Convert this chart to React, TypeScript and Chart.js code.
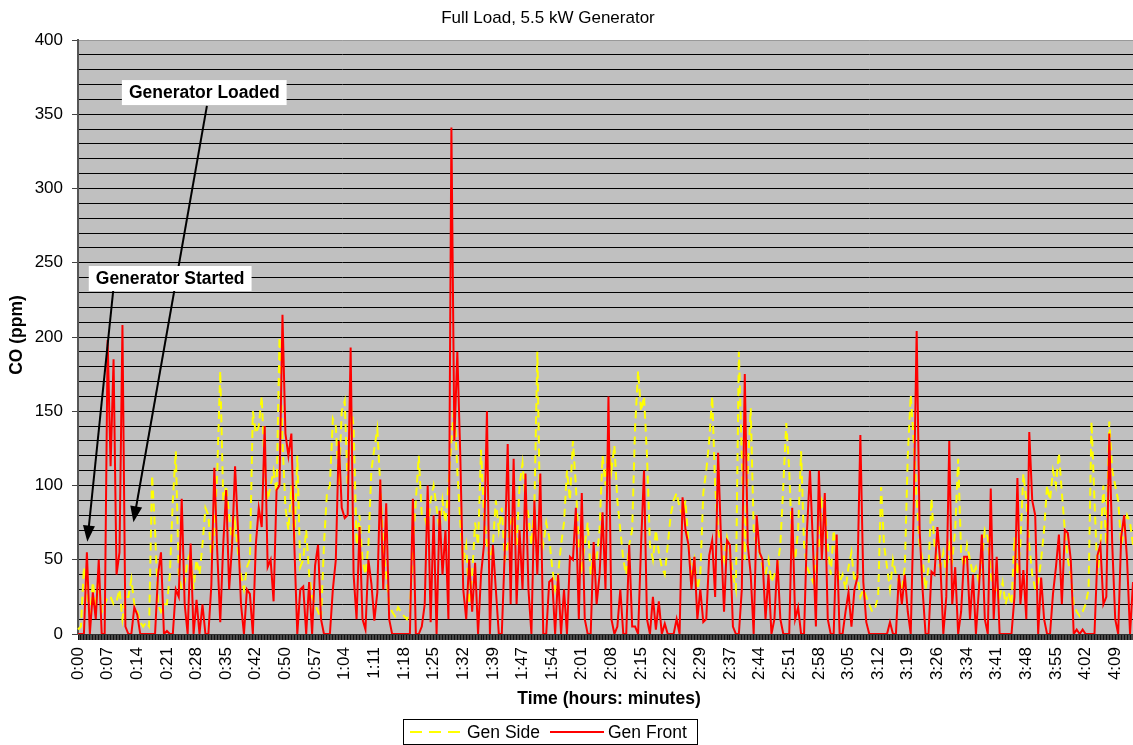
import React, { useEffect, useRef } from 'react';
import { Chart, registerables } from 'chart.js';

Chart.register(...registerables);

const chartTitle = 'Full Load, 5.5 kW Generator';
const xTitle = 'Time (hours: minutes)';
const yTitle = 'CO (ppm)';

const timeLabels = [
  '0:00', '0:07', '0:14', '0:21', '0:28', '0:35', '0:42', '0:50', '0:57', '1:04',
  '1:11', '1:18', '1:25', '1:32', '1:39', '1:47', '1:54', '2:01', '2:08', '2:15',
  '2:22', '2:29', '2:37', '2:44', '2:51', '2:58', '3:05', '3:12', '3:19', '3:26',
  '3:34', '3:41', '3:48', '3:55', '4:02', '4:09',
];
const samplesPerLabel = 10;

const genSide = [
  3, 5, 45, 30, 10, 35, 20, 35, 15, 20,
  25, 25, 20, 22, 30, 10, 25, 25, 37, 20,
  15, 8, 5, 8, 5, 107, 70, 20, 15, 20,
  20, 40, 90, 123, 40, 30, 35, 50, 55, 30,
  50, 40, 60, 85, 80, 50, 70, 110, 177, 90,
  100, 80, 60, 75, 55, 40, 30, 45, 50, 150,
  135, 140, 160, 110, 90, 100, 110, 95, 200, 130,
  85, 70, 100, 60, 120, 45, 50, 70, 40, 25,
  20, 15, 10, 60, 95, 100, 145, 140, 100, 150,
  157, 100, 155, 140, 60, 80, 50, 40, 60, 110,
  125, 138, 100, 60, 40, 20, 15, 12, 18, 15,
  12, 10, 15, 60, 90, 120, 80, 79, 70, 90,
  100, 85, 70, 90, 75, 100, 130, 155, 110, 75,
  50, 60, 20, 40, 75, 60, 124, 80, 60, 50,
  60, 90, 70, 85, 50, 60, 75, 80, 60, 100,
  115, 90, 80, 60, 85, 190, 70, 60, 75, 65,
  45, 30, 40, 60, 75, 110, 90, 130, 100, 60,
  45, 60, 75, 40, 55, 50, 70, 120, 100, 130,
  110, 127, 90, 70, 50, 40, 60, 70, 140, 177,
  150, 160, 120, 60, 50, 70, 55, 45, 40, 60,
  80, 90, 95, 85, 80, 90, 60, 40, 50, 30,
  40, 95, 110, 130, 160, 100, 70, 60, 50, 65,
  55, 40, 30, 190, 120, 50, 110, 152, 70, 60,
  55, 45, 40, 50, 35, 40, 45, 60, 100, 142,
  110, 60, 50, 70, 123, 60, 45, 40, 35, 50,
  60, 90, 85, 60, 40, 70, 50, 35, 40, 30,
  45, 55, 35, 40, 25, 30, 25, 20, 15, 18,
  25, 99, 60, 45, 30, 50, 40, 35, 30, 45,
  120, 161, 130, 90, 60, 50, 30, 45, 91, 60,
  50, 45, 55, 40, 60, 50, 70, 118, 55, 45,
  60, 50, 40, 45, 35, 50, 70, 65, 40, 30,
  30, 25, 35, 20, 28, 20, 65, 40, 60, 108,
  90, 60, 40, 30, 35, 50, 70, 100, 90, 110,
  100, 122, 95, 70, 50, 40, 20, 15, 12, 15,
  20, 30, 143, 90, 40, 60, 100, 60, 143, 110,
  100, 90, 60, 70, 80, 75, 60,
];

const genFront = [
  0, 0, 0, 55, 0, 28, 10, 50, 0, 0,
  198, 113, 185, 40, 55, 208, 5, 0, 0, 18,
  13, 0, 0, 0, 0, 0, 0, 40, 55, 0,
  2, 0, 0, 30, 25, 91, 20, 0, 61, 0,
  23, 0, 20, 0, 0, 33, 112, 55, 8, 60,
  97, 30, 60, 113, 70, 20, 0, 30, 27, 0,
  60, 85, 72, 140, 45, 50, 22, 97, 100, 215,
  135, 120, 135, 60, 0, 30, 32, 0, 35, 0,
  46, 60, 10, 0, 0, 0, 30, 50, 130, 85,
  78, 80, 193, 40, 10, 72, 10, 3, 50, 34,
  9, 28, 104, 30, 88, 10, 0, 0, 0, 0,
  0, 0, 0, 91, 0, 0, 5, 20, 100, 8,
  80, 0, 83, 40, 70, 10, 341, 130, 190, 120,
  30, 10, 50, 15, 48, 0, 40, 60, 150, 0,
  60, 30, 0, 0, 55, 128, 20, 118, 20, 70,
  30, 108, 30, 0, 90, 40, 108, 0, 0, 35,
  37, 0, 40, 0, 30, 0, 52, 50, 85, 10,
  95, 10, 0, 0, 62, 20, 40, 82, 30, 160,
  10, 0, 5, 30, 0, 0, 60, 5, 5, 0,
  60, 110, 10, 0, 25, 3, 22, 0, 7, 0,
  0, 0, 10, 0, 92, 70, 60, 30, 52, 10,
  30, 8, 10, 53, 63, 25, 122, 63, 15, 63,
  60, 5, 0, 0, 30, 175, 60, 40, 0, 80,
  55, 50, 10, 40, 0, 10, 50, 10, 0, 0,
  0, 85, 10, 18, 0, 0, 70, 110, 60, 5,
  110, 50, 95, 10, 0, 0, 67, 0, 0, 15,
  28, 5, 30, 38, 134, 35, 8, 0, 0, 0,
  0, 0, 0, 0, 8, 0, 0, 40, 20, 40,
  15, 0, 85, 204, 70, 30, 0, 0, 42, 40,
  72, 47, 0, 25, 130, 20, 45, 0, 15, 52,
  52, 10, 40, 0, 30, 67, 10, 0, 98, 10,
  52, 0, 0, 0, 0, 0, 25, 105, 20, 43,
  10, 136, 90, 80, 0, 38, 10, 0, 0, 27,
  45, 67, 20, 70, 68, 50, 0, 3, 0, 3,
  0, 0, 0, 0, 53, 60, 20, 25, 135, 60,
  10, 0, 65, 80, 50, 0, 35,
];

// annotation anchors in data units: [category index, ppm]
const annotations = [
  { text: 'Generator Loaded', box: [42.6, 364.6], tail: [43.5, 355.6], tip: [18.7, 75.2] },
  { text: 'Generator Started', box: [31.1, 239.4], tail: [11.9, 231.6], tip: [3.14, 62.2] },
];

const FONT = '"Liberation Sans", Arial, Helvetica, sans-serif';

export default function App() {
  const ref = useRef<HTMLCanvasElement>(null);

  useEffect(() => {
    const canvas = ref.current;
    if (!canvas) return;
    const n = genFront.length;
    const labels = Array.from({ length: n }, (_, i) =>
      i % samplesPerLabel === 0 ? timeLabels[i / samplesPerLabel] ?? '' : ''
    );

    const bgPlugin = {
      id: 'bg',
      beforeDraw(chart: any) {
        const { ctx, chartArea } = chart;
        ctx.save();
        ctx.fillStyle = '#ffffff';
        ctx.fillRect(0, 0, chart.width, chart.height);
        ctx.fillStyle = '#c0c0c0';
        ctx.fillRect(chartArea.left, chartArea.top, chartArea.right - chartArea.left, chartArea.bottom - chartArea.top);
        // dense category tick band under the axis
        ctx.fillStyle = '#4a4a4a';
        ctx.fillRect(chartArea.left, chartArea.bottom, chartArea.right - chartArea.left, 6);
        ctx.restore();
      },
    };

    const overlayPlugin = {
      id: 'overlay',
      afterDraw(chart: any) {
        const { ctx } = chart;
        const xs = chart.scales.x;
        const ys = chart.scales.y;
        ctx.save();
        // title
        ctx.fillStyle = '#000';
        ctx.font = `17px ${FONT}`;
        ctx.textAlign = 'center';
        ctx.textBaseline = 'middle';
        ctx.fillText(chartTitle, 548, 18);
        // x title
        ctx.font = `bold 17.5px ${FONT}`;
        ctx.fillText(xTitle, 609, 699);
        // y title
        ctx.save();
        ctx.translate(17, 335);
        ctx.rotate(-Math.PI / 2);
        ctx.fillText(yTitle, 0, 0);
        ctx.restore();

        // legend
        ctx.fillStyle = '#fff';
        ctx.fillRect(403.5, 719.5, 294, 25);
        ctx.strokeStyle = '#000';
        ctx.lineWidth = 1;
        ctx.strokeRect(403.5, 719.5, 294, 25);
        ctx.lineWidth = 2;
        ctx.strokeStyle = '#ffff00';
        ctx.setLineDash([12, 7]);
        ctx.beginPath();
        ctx.moveTo(410, 732);
        ctx.lineTo(461, 732);
        ctx.stroke();
        ctx.setLineDash([]);
        ctx.strokeStyle = '#ff0000';
        ctx.beginPath();
        ctx.moveTo(550, 732);
        ctx.lineTo(604, 732);
        ctx.stroke();
        ctx.fillStyle = '#000';
        ctx.font = `17.5px ${FONT}`;
        ctx.textAlign = 'left';
        ctx.fillText('Gen Side', 467, 733);
        ctx.fillText('Gen Front', 608, 733);

        // annotations
        for (const a of annotations) {
          const tx = xs.getPixelForValue(a.tail[0]);
          const ty = ys.getPixelForValue(a.tail[1]);
          const px = xs.getPixelForValue(a.tip[0]);
          const py = ys.getPixelForValue(a.tip[1]);
          const ang = Math.atan2(py - ty, px - tx);
          const headLen = 16;
          const headW = 6;
          ctx.strokeStyle = '#000';
          ctx.lineWidth = 2;
          ctx.beginPath();
          ctx.moveTo(tx, ty);
          ctx.lineTo(px - Math.cos(ang) * headLen * 0.8, py - Math.sin(ang) * headLen * 0.8);
          ctx.stroke();
          ctx.fillStyle = '#000';
          ctx.beginPath();
          ctx.moveTo(px, py);
          ctx.lineTo(px - Math.cos(ang) * headLen - Math.sin(ang) * headW, py - Math.sin(ang) * headLen + Math.cos(ang) * headW);
          ctx.lineTo(px - Math.cos(ang) * headLen + Math.sin(ang) * headW, py - Math.sin(ang) * headLen - Math.cos(ang) * headW);
          ctx.closePath();
          ctx.fill();

          ctx.font = `bold 17.5px ${FONT}`;
          const bx = xs.getPixelForValue(a.box[0]);
          const by = ys.getPixelForValue(a.box[1]);
          const w = ctx.measureText(a.text).width + 14;
          const h = 25;
          ctx.fillStyle = '#fff';
          ctx.fillRect(bx - w / 2, by - h / 2, w, h);
          ctx.fillStyle = '#000';
          ctx.textAlign = 'center';
          ctx.textBaseline = 'middle';
          ctx.fillText(a.text, bx, by + 1);
        }
        ctx.restore();
      },
    };

    const chart = new Chart(canvas, {
      type: 'line',
      data: {
        labels,
        datasets: [
          {
            label: 'Gen Side',
            data: genSide,
            borderColor: '#ffff00',
            borderWidth: 2,
            borderDash: [8, 5],
            pointRadius: 0,
            tension: 0,
            order: 1,
          },
          {
            label: 'Gen Front',
            data: genFront,
            borderColor: '#ff0000',
            borderWidth: 2,
            pointRadius: 0,
            tension: 0,
            order: 0,
          },
        ],
      },
      options: {
        animation: false,
        responsive: false,
        events: [],
        layout: { padding: { top: 40, left: 0, right: 0, bottom: 0 } },
        plugins: {
          legend: { display: false },
          title: { display: false },
          tooltip: { enabled: false },
        },
        scales: {
          x: {
            type: 'category',
            offset: false,
            grid: {
              drawOnChartArea: false,
              drawTicks: true,
              tickLength: 6,
              color: '#111',
              lineWidth: 1,
            },
            border: { display: true, color: '#333', width: 1 },
            ticks: {
              autoSkip: false,
              maxRotation: 90,
              minRotation: 90,
              padding: 7,
              color: '#000',
              font: { family: FONT, size: 17 },
            },
            afterFit(scale: any) {
              scale.height = 111;
              scale.paddingLeft = 0;
              scale.paddingRight = 0;
            },
          },
          y: {
            min: 0,
            max: 400,
            grid: {
              color: (c: any) => (c.tick && c.tick.value === 400 ? '#999' : '#000'),
              lineWidth: 1,
              tickLength: 6,
              tickColor: (c: any) => (c.tick && c.tick.value % 50 === 0 ? '#444' : 'rgba(0,0,0,0)'),
            },
            border: { display: true, color: '#555', width: 2 },
            ticks: {
              stepSize: 10,
              autoSkip: false,
              padding: 9,
              color: '#000',
              font: { family: FONT, size: 17 },
              callback: (v: any) => (Number(v) % 50 === 0 ? String(v) : ''),
            },
            afterFit(scale: any) {
              scale.width = 78;
              scale.paddingTop = 0;
              scale.paddingBottom = 0;
            },
          },
        },
      },
      plugins: [bgPlugin, overlayPlugin],
    });

    return () => chart.destroy();
  }, []);

  return (
    <div style={{ position: 'fixed', left: 0, top: 0, width: 1133, height: 745, background: '#fff' }}>
      <canvas ref={ref} width={1133} height={745} style={{ display: 'block' }} />
    </div>
  );
}
